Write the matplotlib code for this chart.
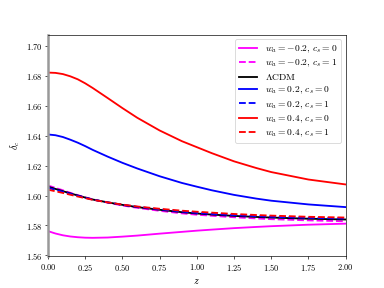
import numpy as np
import matplotlib
matplotlib.use('Agg')
import matplotlib.pyplot as plt

plt.rcParams['font.family'] = 'serif'
plt.rcParams['font.serif'] = ['cmr10', 'DejaVu Serif']
plt.rcParams['mathtext.fontset'] = 'cm'
plt.rcParams['axes.formatter.use_mathtext'] = True

# redshift grid
z = [0, 0.05, 0.1, 0.15, 0.2, 0.25, 0.3, 0.4, 0.5, 0.6, 0.75, 0.9, 1.0, 1.1, 1.25, 1.4, 1.5, 1.75, 2.0]

# delta_c curves
mag_cs0 = [1.5762, 1.5746, 1.5734, 1.5726, 1.5721, 1.5718, 1.5717, 1.5719, 1.5725, 1.5732,
           1.5745, 1.5757, 1.5765, 1.5772, 1.5782, 1.5790, 1.5795, 1.5805, 1.5812]
mag_cs1 = [1.6068, 1.6052, 1.6036, 1.6019, 1.6003, 1.5989, 1.5975, 1.5953, 1.5934, 1.5918,
           1.5898, 1.5881, 1.5872, 1.5865, 1.5855, 1.5847, 1.5842, 1.5834, 1.5828]
lcdm = [1.6060, 1.6045, 1.6030, 1.6015, 1.6001, 1.5987, 1.5974, 1.5955, 1.5938, 1.5923,
        1.5905, 1.5889, 1.5880, 1.5873, 1.5864, 1.5857, 1.5853, 1.5845, 1.5840]
blue_cs0 = [1.6410, 1.6405, 1.6393, 1.6375, 1.6355, 1.6332, 1.6307, 1.6262, 1.6220, 1.6182,
            1.6130, 1.6085, 1.6060, 1.6036, 1.6005, 1.5980, 1.5966, 1.5941, 1.5923]
blue_cs1 = [1.6052, 1.6039, 1.6026, 1.6012, 1.5999, 1.5986, 1.5974, 1.5955, 1.5939, 1.5925,
            1.5908, 1.5893, 1.5884, 1.5877, 1.5869, 1.5862, 1.5858, 1.5851, 1.5846]
red_cs0 = [1.6825, 1.6823, 1.6815, 1.6800, 1.6780, 1.6753, 1.6722, 1.6655, 1.6587, 1.6522,
           1.6437, 1.6365, 1.6325, 1.6285, 1.6230, 1.6185, 1.6158, 1.6108, 1.6075]
red_cs1 = [1.6040, 1.6029, 1.6018, 1.6006, 1.5994, 1.5983, 1.5972, 1.5955, 1.5940, 1.5927,
           1.5912, 1.5899, 1.5892, 1.5886, 1.5877, 1.5870, 1.5866, 1.5858, 1.5853]

fig, ax = plt.subplots(figsize=(6.4, 4.8), dpi=60)

lw = 2.2
ax.plot(z, mag_cs0, color='magenta', lw=lw, label=r'$w_a=-0.2$, $c_s=0$')
ax.plot(z, mag_cs1, color='magenta', lw=lw, ls='--', label=r'$w_a=-0.2$, $c_s=1$')
ax.plot(z, lcdm, color='black', lw=lw, label=r'$\Lambda$CDM')
ax.plot(z, blue_cs0, color='blue', lw=lw, label=r'$w_a=0.2$, $c_s=0$')
ax.plot(z, blue_cs1, color='blue', lw=lw, ls='--', label=r'$w_a=0.2$, $c_s=1$')
ax.plot(z, red_cs0, color='red', lw=lw, label=r'$w_a=0.4$, $c_s=0$')
ax.plot(z, red_cs1, color='red', lw=lw, ls='--', label=r'$w_a=0.4$, $c_s=1$')

ax.set_xlim(0, 2)
ax.set_ylim(1.5593, 1.708)
ax.set_xticks(np.arange(0, 2.01, 0.25))
ax.set_yticks(np.arange(1.56, 1.7001, 0.02))
ax.set_xlabel(r'$z$', fontsize=12)
ax.set_ylabel(r'$\delta_c$', fontsize=12)
ax.spines['left'].set_color('0.6')
ax.spines['left'].set_linewidth(3)
ax.legend(loc='upper right', fontsize=11.5, handlelength=1.9, labelspacing=0.3)

plt.savefig('out.png', dpi=60)
